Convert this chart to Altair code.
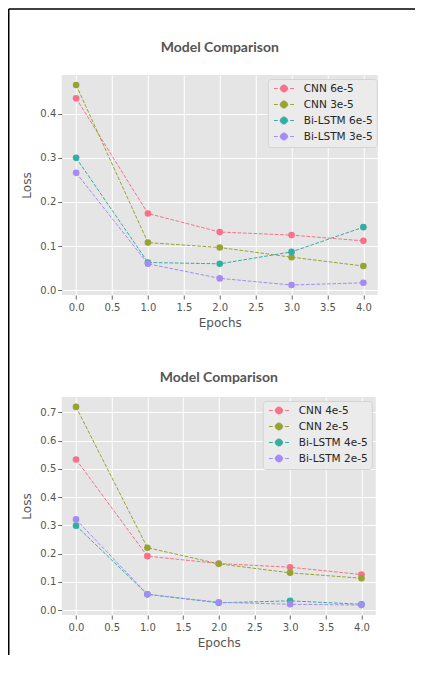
import altair as alt
import pandas as pd

# ---------------- data ----------------
epochs = [0, 1, 2, 3, 4]

series_top = ["CNN 6e-5", "CNN 3e-5", "Bi-LSTM 6e-5", "Bi-LSTM 3e-5"]
cnn_6e5 = [0.435, 0.174, 0.132, 0.125, 0.112]
cnn_3e5 = [0.465, 0.108, 0.097, 0.075, 0.055]
bilstm_6e5 = [0.300, 0.063, 0.060, 0.087, 0.143]
bilstm_3e5 = [0.266, 0.060, 0.027, 0.012, 0.017]

series_bottom = ["CNN 4e-5", "CNN 2e-5", "Bi-LSTM 4e-5", "Bi-LSTM 2e-5"]
cnn_4e5 = [0.533, 0.191, 0.165, 0.152, 0.126]
cnn_2e5 = [0.719, 0.221, 0.164, 0.132, 0.113]
bilstm_4e5 = [0.299, 0.056, 0.026, 0.033, 0.021]
bilstm_2e5 = [0.321, 0.056, 0.028, 0.021, 0.018]

x_ticks = [0.0, 0.5, 1.0, 1.5, 2.0, 2.5, 3.0, 3.5, 4.0]
y_ticks_top = [0.0, 0.1, 0.2, 0.3, 0.4]
y_ticks_bottom = [0.0, 0.1, 0.2, 0.3, 0.4, 0.5, 0.6, 0.7]

palette = ["#f77189", "#97a431", "#36ada4", "#a48cf4"]
title_text = "Model Comparison"
x_title = "Epochs"
y_title = "Loss"

# legend handle: dashed line with a dot in the middle (custom symbol path)
legend_symbol = (
    "M-0.66,0H0.1 M0.5,0H1.0 M1.68,0H2.18 M2.58,0H3.34 "
    "M0.64,0A0.7,0.7 0 1,0 2.04,0A0.7,0.7 0 1,0 0.64,0Z"
)


def make_df(series, values):
    rows = []
    for name, vals in zip(series, values):
        for e, v in zip(epochs, vals):
            rows.append({"epoch": e, "loss": v, "series": name})
    return pd.DataFrame(rows)


def panel(series, values, y_ticks, w, h, legend_x, title_offset):
    df = make_df(series, values)
    lo, hi = df["loss"].min(), df["loss"].max()
    pad = (hi - lo) * 0.05
    xpad = (max(epochs) - min(epochs)) * 0.05
    legend = alt.Legend(
        orient="none", legendX=legend_x, legendY=4, title=None,
        symbolType=legend_symbol, symbolSize=100, symbolStrokeWidth=1,
        labelFont="DejaVu Sans", labelFontSize=10.5, labelColor="#262626",
        labelOffset=21, padding=4, rowPadding=3,
        fillColor="#ebebeb", strokeColor="#d4d4d4", cornerRadius=3,
    )
    color = alt.Color("series:N", sort=series,
                      scale=alt.Scale(domain=series, range=palette), legend=legend)
    x = alt.X("epoch:Q", title=x_title,
              scale=alt.Scale(domain=[min(epochs) - xpad, max(epochs) + xpad], nice=False, zero=False),
              axis=alt.Axis(values=x_ticks, format=".1f"))
    y = alt.Y("loss:Q", title=y_title,
              scale=alt.Scale(domain=[lo - pad, hi + pad], nice=False, zero=False),
              axis=alt.Axis(values=y_ticks, format=".1f"))
    base = alt.Chart(df)
    lines = base.mark_line(strokeDash=[3.7, 1.6], strokeWidth=1).encode(x=x, y=y, color=color)
    pts = base.mark_circle(size=44, opacity=1).encode(x=x, y=y, color=color)
    return alt.layer(lines, pts).properties(
        width=w, height=h,
        title=alt.TitleParams(title_text, font="Lato", fontSize=14, fontWeight="bold",
                              color="#555555", offset=title_offset, anchor="middle", frame="group"),
    )


top_chart = panel(series_top, [cnn_6e5, cnn_3e5, bilstm_6e5, bilstm_3e5], y_ticks_top, 316, 220, 206, 20)
bottom_chart = panel(series_bottom, [cnn_4e5, cnn_2e5, bilstm_4e5, bilstm_2e5], y_ticks_bottom, 314, 218, 201, 12)

charts = alt.vconcat(top_chart, bottom_chart, spacing=102, bounds="flush").resolve_scale(
    color="independent", x="independent", y="independent"
)

# page border (left and top edges of the scanned page frame);
# kept within the 408px body width so the svg is never shrunk
one = alt.Chart(pd.DataFrame({"k": [0]}))
border_left = one.mark_rule(color="black", strokeWidth=1.5).encode(
    x=alt.value(0.75), y=alt.value(-66), y2=alt.value(580))
border_top = one.mark_rule(color="black", strokeWidth=1.5).encode(
    x=alt.value(0.75), x2=alt.value(407), y=alt.value(-66))
frame = alt.layer(border_left, border_top).properties(
    width=1, height=1, view=alt.ViewBackground(fill=None, stroke=None)
)

chart = alt.hconcat(frame, charts, spacing=52.75, bounds="flush").properties(
    padding=0, background="white"
).configure_view(
    fill="#E5E5E5", stroke=None
).configure_axis(
    domain=False, grid=True, gridColor="white", gridWidth=1,
    tickColor="#666666", tickSize=4, tickWidth=1,
    labelFont="DejaVu Sans", labelFontSize=10, labelColor="#555555", labelPadding=2,
    titleFont="DejaVu Sans", titleFontSize=12, titleFontWeight="normal", titleColor="#555555",
    titlePadding=4,
).configure_axisX(labelPadding=3, titlePadding=5).configure_axisY(titlePadding=6)

chart.save("out.html", embed_options={"renderer": "svg", "actions": False})
